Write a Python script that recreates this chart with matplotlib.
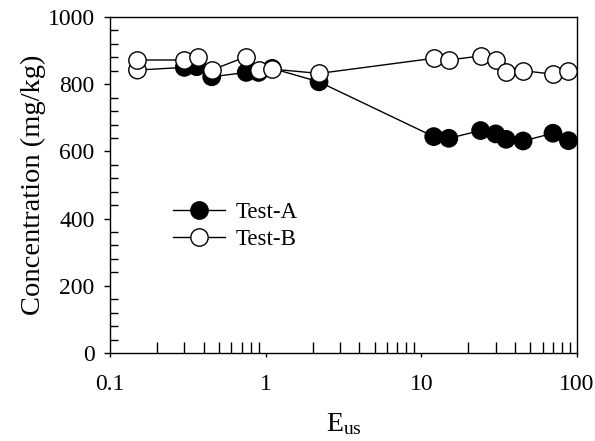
import matplotlib
matplotlib.use("Agg")
from matplotlib import pyplot as plt
from matplotlib.ticker import LogLocator, MultipleLocator, NullFormatter
import numpy as np

plt.rcParams['font.family'] = ['Liberation Serif', 'DejaVu Serif']
plt.rcParams['mathtext.fontset'] = 'custom'
plt.rcParams['mathtext.rm'] = 'Liberation Serif'
plt.rcParams['mathtext.it'] = 'Liberation Serif:italic'

# energy input values (log axis)
eus_a = [0.15, 0.3, 0.36, 0.45, 0.75, 0.9, 1.1, 2.2, 12, 15, 24, 30, 35, 45, 70, 88]
conc_a = [842, 850, 852, 822, 835, 835, 847, 807, 644, 639, 662, 652, 636, 631, 654, 632]
face_a = ['white'] + ['black'] * 15

eus_b = [0.15, 0.3, 0.37, 0.45, 0.75, 0.9, 1.1, 2.2, 12, 15, 24, 30, 35, 45, 70, 88]
conc_b = [872, 872, 880, 842, 882, 842, 845, 832, 877, 872, 884, 872, 837, 840, 830, 840]

fig = plt.figure(figsize=(5.95, 4.41), dpi=100)
ax = fig.add_axes([0.1849, 0.1995, 0.785, 0.762])

ax.plot(eus_a, conc_a, '-', color='black', lw=1, zorder=2)
ax.scatter(eus_a, conc_a, s=12.5 ** 2, c=face_a, edgecolors='black', linewidths=1, zorder=3)
ax.plot(eus_b, conc_b, '-', color='black', lw=1, zorder=4)
ax.scatter(eus_b, conc_b, s=12.5 ** 2, c='white', edgecolors='black', linewidths=1, zorder=5)

# legend drawn from proxies
ha, = ax.plot([], [], '-o', color='black', mfc='black', mec='black', ms=12.5, lw=1)
hb, = ax.plot([], [], '-o', color='black', mfc='white', mec='black', ms=12.5, lw=1)
ax.legend([ha, hb], ['Test-A', 'Test-B'], loc='upper left', bbox_to_anchor=(0.09, 0.51),
          frameon=False, fontsize=16.5, handlelength=2.3, handletextpad=0.45, labelspacing=0.25)

ax.set_xscale('log')
ax.set_xlim(0.1, 100)
ax.set_ylim(0, 1000)
ax.set_xticks([0.1, 1, 10, 100])
ax.set_xticklabels(['0.1', '1', '10', '100'])
ax.xaxis.set_minor_locator(LogLocator(base=10, subs=np.arange(2, 10)))
ax.xaxis.set_minor_formatter(NullFormatter())
ax.yaxis.set_major_locator(MultipleLocator(200))
ax.yaxis.set_minor_locator(MultipleLocator(40))

ax.tick_params(axis='x', which='major', direction='out', length=3, width=1, labelsize=17, pad=12)
ax.tick_params(axis='x', which='minor', direction='in', length=8, width=1)
ax.tick_params(axis='y', which='major', direction='out', length=4, width=1, labelsize=17, pad=7)
ax.tick_params(axis='y', which='minor', direction='in', length=6, width=1)
for s in ax.spines.values():
    s.set_linewidth(1)

ax.set_xlabel(r'E$_{\mathrm{us}}$', fontsize=20, labelpad=12)
ax.set_ylabel('Concentration (mg/kg)', fontsize=20.5, labelpad=1.5)

fig.savefig('out.png', dpi=100)
